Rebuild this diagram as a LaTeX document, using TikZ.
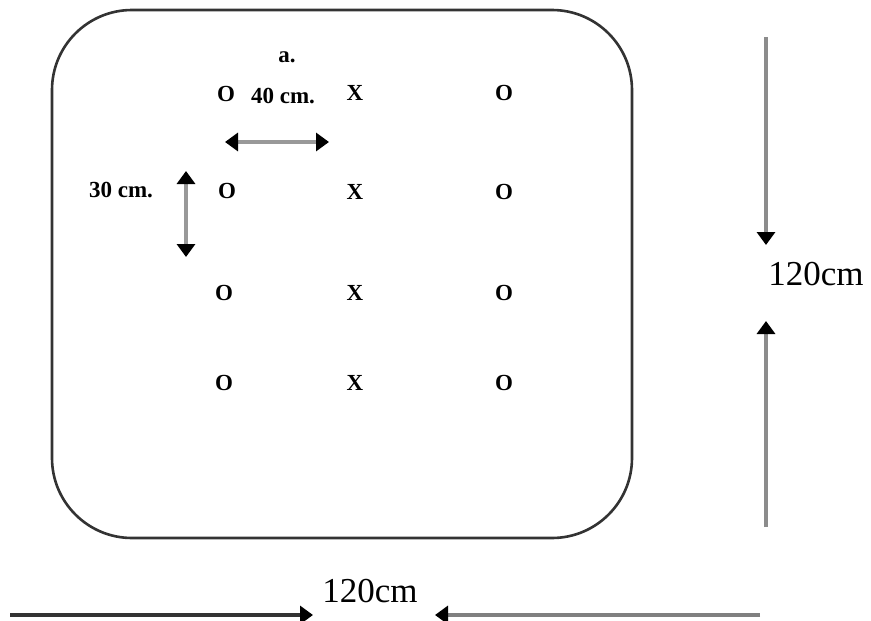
\documentclass[tikz,border=0pt]{standalone}
\usepackage{fontspec}
\setmainfont{Liberation Serif}
\usetikzlibrary{arrows.meta}
\tikzset{
  mark label/.style={inner sep=0pt, font=\fontsize{23}{26}\selectfont\bfseries},
  dim label/.style={inner sep=0pt, font=\fontsize{35}{40}\selectfont},
  tip/.style={Triangle[width=18pt,length=13pt,color=black,fill=black]},
  dim arrow/.style={line width=3.4pt, draw=#1, -{Triangle[width=18pt,length=13pt,color=black,fill=black]}},
  dim arrow/.default={black!45},
  span arrow/.style={line width=3.6pt, draw=black!40,
    {Triangle[width=18pt,length=13pt,color=black,fill=black]}-{Triangle[width=18pt,length=13pt,color=black,fill=black]}}
}
\begin{document}
\begin{tikzpicture}[x=1pt,y=-1pt]
  \useasboundingbox (0,0) rectangle (871,621);
  % plot outline
  \draw[line width=2.6pt, draw=black!80, rounded corners=80pt] (52,10) rectangle (632,538);

  % planting grid
  \node[mark label] (a) at (287,57) {a.};
  \node[mark label] (o11) at (226,94) {O};
  \node[mark label] (d40) at (283,96) {40 cm.};
  \node[mark label] (x12) at (355,93) {X};
  \node[mark label] (o13) at (504,93) {O};
  \node[mark label] (d30) at (121,190) {30 cm.};
  \node[mark label] (o21) at (227,191) {O};
  \node[mark label] (x22) at (355,192) {X};
  \node[mark label] (o23) at (504,192) {O};
  \node[mark label] (o31) at (224,293) {O};
  \node[mark label] (x32) at (355,293) {X};
  \node[mark label] (o33) at (504,293) {O};
  \node[mark label] (o41) at (224,383) {O};
  \node[mark label] (x42) at (355,383) {X};
  \node[mark label] (o43) at (504,383) {O};

  % spacing arrows
  \coordinate (h1) at (225,142);
  \coordinate (h2) at (329,142);
  \draw[span arrow] (h1) -- (h2);
  \coordinate (v1) at (186,171);
  \coordinate (v2) at (186,257);
  \draw[span arrow] (v1) -- (v2);

  % overall dimensions
  \node[dim label] (side) at (816,274) {120cm};
  \coordinate (s1) at (766,37);
  \coordinate (s2) at (766,245);
  \coordinate (s3) at (766,527);
  \coordinate (s4) at (766,321);
  \draw[dim arrow] (s1) -- (s2);
  \draw[dim arrow] (s3) -- (s4);

  \node[dim label] (base) at (370,591) {120cm};
  \coordinate (b1) at (10,615);
  \coordinate (b2) at (313,615);
  \coordinate (b3) at (760,615);
  \coordinate (b4) at (435,615);
  \draw[dim arrow=black!80] (b1) -- (b2);
  \draw[dim arrow=black!50] (b3) -- (b4);
\end{tikzpicture}
\end{document}
